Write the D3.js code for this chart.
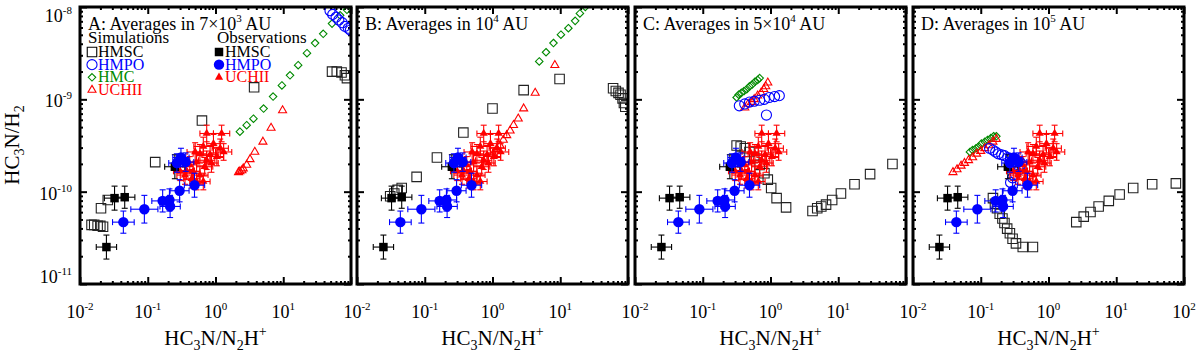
<!DOCTYPE html>
<head>
  <meta charset="utf-8">
  <script src="https://cdn.jsdelivr.net/npm/d3@7"></script>
  <style>
    body { margin:0; background:#fff; }
    text { font-family: "Liberation Serif", "Times New Roman", serif; fill:#000; }
  </style>
</head>
<body>
<script>
// all values are log10 of the plotted quantity (x = HC3N/N2H+, y = HC3N/H2)

// observations, same in every panel
var obsHmscX    = [-1.61, -1.49, -1.34, -0.60];
var obsHmscY    = [-10.60, -10.07, -10.06, -9.73];
var obsHmscXErr = [0.15, 0.15, 0.15, 0.15];
var obsHmscYErr = [0.13, 0.13, 0.12, 0.13];

var obsHmpoX    = [-1.36, -1.05, -0.78, -0.68, -0.67, -0.53, -0.31, -0.51, -0.44, -0.57];
var obsHmpoY    = [-10.33, -10.19, -10.10, -10.09, -10.16, -9.99, -9.93, -9.63, -9.68, -9.69];
var obsHmpoXErr = [0.16, 0.20, 0.16, 0.15, 0.15, 0.14, 0.15, 0.12, 0.12, 0.12];
var obsHmpoYErr = [0.12, 0.15, 0.12, 0.12, 0.12, 0.12, 0.13, 0.10, 0.10, 0.10];

var obsUchiiX = [-0.30, -0.13, 0.09, -0.18, -0.03, 0.07, 0.12, -0.23, -0.08, 0.02, -0.13, -0.28,
                 -0.38, -0.43, -0.33, -0.23, -0.52, -0.16, -0.06, -0.35, -0.28, -0.45, -0.18];
var obsUchiiY = [-9.57, -9.37, -9.37, -9.51, -9.48, -9.53, -9.57, -9.59, -9.60, -9.62, -9.66, -9.68,
                 -9.71, -9.77, -9.78, -9.82, -9.78, -9.73, -9.69, -9.86, -9.89, -9.82, -9.89];
var obsUchiiXErr = [0.12, 0.10, 0.12, 0.14, 0.10, 0.12, 0.12, 0.10, 0.12, 0.10, 0.12, 0.14,
                    0.10, 0.12, 0.10, 0.12, 0.10, 0.12, 0.10, 0.12, 0.10, 0.12, 0.10];
var obsUchiiYErr = [0.10, 0.09, 0.09, 0.10, 0.10, 0.10, 0.09, 0.10, 0.10, 0.10, 0.10, 0.10,
                    0.09, 0.10, 0.10, 0.10, 0.10, 0.10, 0.10, 0.10, 0.09, 0.10, 0.09];

// simulations, panel A (7x10^3 AU)
var simAHmscX  = [-1.83, -1.79, -1.74, -1.70, -1.66, -1.69, -1.59, -0.89, -0.20, 0.57, 1.72, 1.79, 1.86, 1.91, 1.94];
var simAHmscY  = [-10.36, -10.36, -10.37, -10.37, -10.38, -10.18, -10.09, -9.68, -9.23, -8.87, -8.70, -8.70, -8.71, -8.74, -8.77];
var simAHmpoX  = [1.69, 1.73, 1.78, 1.82, 1.87, 1.91, 1.96, 1.99];
var simAHmpoY  = [-8.04, -8.08, -8.11, -8.14, -8.17, -8.21, -8.23, -8.25];
var simAHmcX   = [0.36, 0.46, 0.56, 0.71, 0.85, 0.98, 1.10, 1.22, 1.35, 1.47, 1.59, 1.72, 1.84, 1.94];
var simAHmcY   = [-9.35, -9.28, -9.21, -9.10, -8.97, -8.85, -8.74, -8.63, -8.50, -8.39, -8.29, -8.18, -8.09, -8.03];
var simAUchiiX = [0.99, 0.82, 0.70, 0.58, 0.51, 0.46, 0.41, 0.39, 0.36, 0.34];
var simAUchiiY = [-9.12, -9.31, -9.46, -9.57, -9.65, -9.71, -9.75, -9.77, -9.78, -9.79];

// panel B (10^4 AU)
var simBHmscX  = [-1.51, -1.45, -1.40, -1.34, -1.12, -0.82, -0.43, 0.00, 0.46, 0.99, 1.78, 1.82, 1.86, 1.89, 1.92, 1.94, 1.96];
var simBHmscY  = [-10.05, -10.02, -9.98, -9.96, -9.84, -9.63, -9.36, -9.10, -8.90, -8.78, -8.88, -8.91, -8.93, -8.95, -8.99, -9.04, -9.08];
var simBHmpoX  = [];
var simBHmpoY  = [];
var simBHmcX   = [0.69, 0.79, 0.90, 1.01, 1.12, 1.22, 1.29, 1.37, 1.45];
var simBHmcY   = [-8.59, -8.49, -8.39, -8.30, -8.23, -8.15, -8.07, -8.00, -7.93];
var simBUchiiX = [0.92, 0.63, 0.46, 0.38, 0.31, 0.26, 0.21, 0.16, 0.11, 0.06, 0.01];
var simBUchiiY = [-8.63, -8.93, -9.10, -9.21, -9.28, -9.34, -9.39, -9.44, -9.50, -9.54, -9.59];

// panel C (5x10^4 AU)
var simCHmscX  = [-0.50, -0.44, -0.38, -0.31, -0.24, -0.16, -0.09, -0.04, 0.01, 0.09, 0.23, 0.62, 0.69, 0.75, 0.82, 0.91, 1.04, 1.24, 1.47, 1.80];
var simCHmscY  = [-9.50, -9.51, -9.53, -9.57, -9.63, -9.71, -9.80, -9.87, -9.96, -10.07, -10.17, -10.21, -10.18, -10.16, -10.14, -10.09, -10.02, -9.92, -9.81, -9.70];
var simCHmpoX  = [-0.46, -0.38, -0.31, -0.24, -0.16, -0.09, -0.02, 0.06, 0.13, -0.06];
var simCHmpoY  = [-9.07, -9.05, -9.03, -9.02, -9.01, -9.00, -8.98, -8.97, -8.96, -9.17];
var simCHmcX   = [-0.50, -0.47, -0.43, -0.39, -0.35, -0.31, -0.27, -0.23, -0.19, -0.16];
var simCHmcY   = [-8.98, -8.95, -8.93, -8.91, -8.89, -8.86, -8.84, -8.81, -8.79, -8.77];
var simCUchiiX = [-0.38, -0.33, -0.28, -0.24, -0.19, -0.14, -0.10, -0.07, -0.04];
var simCUchiiY = [-9.09, -9.05, -9.03, -9.00, -8.96, -8.93, -8.89, -8.86, -8.82];

// panel D (10^5 AU)
var simDHmscX  = [-0.82, -0.79, -0.76, -0.72, -0.68, -0.65, -0.61, -0.57, -0.53, -0.48, -0.38, -0.23,
                  0.41, 0.52, 0.62, 0.74, 0.89, 1.05, 1.25, 1.53, 1.88];
var simDHmscY  = [-10.07, -10.13, -10.18, -10.24, -10.29, -10.34, -10.40, -10.45, -10.51, -10.56, -10.60, -10.60,
                  -10.33, -10.27, -10.22, -10.16, -10.10, -10.03, -9.96, -9.92, -9.91];
var simDHmpoX  = [-0.87, -0.82, -0.78, -0.74, -0.69, -0.65, -0.60, -0.56, -0.52, -0.47, -0.43, -0.40, -0.43, -0.49, -0.53, -0.56];
var simDHmpoY  = [-9.53, -9.55, -9.57, -9.59, -9.60, -9.61, -9.63, -9.64, -9.65, -9.66, -9.67, -9.70, -9.76, -9.81, -9.85, -9.90];
var simDHmcX   = [-1.16, -1.12, -1.07, -1.03, -0.99, -0.94, -0.90, -0.85, -0.81, -0.77];
var simDHmcY   = [-9.57, -9.55, -9.53, -9.51, -9.48, -9.46, -9.44, -9.42, -9.40, -9.40];
var simDUchiiX = [-1.41, -1.35, -1.29, -1.24, -1.18, -1.12, -1.06, -1.00, -0.94, -0.88, -0.82, -0.77];
var simDUchiiY = [-9.79, -9.76, -9.72, -9.69, -9.66, -9.63, -9.59, -9.56, -9.53, -9.50, -9.46, -9.43];

// panel titles and tick labels
var panelLetters = ["A", "B", "C", "D"];
var panelPrefix  = ["7\u00d710", "10", "5\u00d710", "10"];
var panelExp     = ["3", "4", "4", "5"];
var xTickExp = [-2, -1, 0, 1, 2];
var yTickExp = [-8, -9, -10, -11];

var width = 1200, height = 355;
var plotTop = 7, plotBottom = 284, plotW = 271;
var panelLeft = [80, 357, 635, 913];

var svg = d3.select("body").append("svg")
  .attr("width", width)
  .attr("height", height);

var y = d3.scaleLog().domain([1e-11, 1e-8]).range([plotBottom, plotTop]);

function p10(v) { return Math.pow(10, v); }
function pts(xs, ys) { return xs.map(function(v, i) { return {x: p10(v), y: p10(ys[i])}; }); }

var sims = [
  {hmsc: pts(simAHmscX, simAHmscY), hmpo: pts(simAHmpoX, simAHmpoY), hmc: pts(simAHmcX, simAHmcY), uchii: pts(simAUchiiX, simAUchiiY)},
  {hmsc: pts(simBHmscX, simBHmscY), hmpo: pts(simBHmpoX, simBHmpoY), hmc: pts(simBHmcX, simBHmcY), uchii: pts(simBUchiiX, simBUchiiY)},
  {hmsc: pts(simCHmscX, simCHmscY), hmpo: pts(simCHmpoX, simCHmpoY), hmc: pts(simCHmcX, simCHmcY), uchii: pts(simCUchiiX, simCUchiiY)},
  {hmsc: pts(simDHmscX, simDHmscY), hmpo: pts(simDHmpoX, simDHmpoY), hmc: pts(simDHmcX, simDHmcY), uchii: pts(simDUchiiX, simDUchiiY)}
];

function obsPts(xs, ys, xe, ye) {
  return xs.map(function(v, i) { return {lx: v, ly: ys[i], xe: xe[i], ye: ye[i]}; });
}
var obsHmsc  = obsPts(obsHmscX, obsHmscY, obsHmscXErr, obsHmscYErr);
var obsHmpo  = obsPts(obsHmpoX, obsHmpoY, obsHmpoXErr, obsHmpoYErr);
var obsUchii = obsPts(obsUchiiX, obsUchiiY, obsUchiiXErr, obsUchiiYErr);

var BLUE = "#0000ff", GREEN = "#008a00", RED = "#ff0000";

var shapes = {
  square:   d3.symbol().type(d3.symbolSquare).size(90)(),
  circle:   d3.symbol().type(d3.symbolCircle).size(80)(),
  diamond:  d3.symbol().type(d3.symbolDiamond2).size(36)(),
  triangle: d3.symbol().type(d3.symbolTriangle2).size(46)(),
  fsquare:  d3.symbol().type(d3.symbolSquare).size(72)(),
  fcircle:  d3.symbol().type(d3.symbolCircle).size(85)(),
  ftriangle:d3.symbol().type(d3.symbolTriangle2).size(48)()
};

// minor + major ticks
var majorX = xTickExp.map(p10), minorX = [];
[-2, -1, 0, 1].forEach(function(e) { for (var k = 2; k < 10; k++) minorX.push(k * p10(e)); });
var majorY = yTickExp.map(p10), minorY = [];
[-11, -10, -9].forEach(function(e) { for (var k = 2; k < 10; k++) minorY.push(k * p10(e)); });

function powLabel(g, px, py, base, exp, anchor, size) {
  var t = g.append("text").attr("x", px).attr("y", py)
    .attr("text-anchor", anchor).style("font-size", size + "px");
  t.append("tspan").text(base);
  t.append("tspan").attr("dy", -Math.round(size * 0.45)).style("font-size", Math.round(size * 0.62) + "px").text(exp);
  return t;
}

panelLeft.forEach(function(left, pi) {
  var x = d3.scaleLog().domain([1e-2, 1e2]).range([left, left + plotW]);
  var g = svg.append("g");

  svg.append("clipPath").attr("id", "clip" + pi)
    .append("rect").attr("x", left).attr("y", plotTop).attr("width", plotW).attr("height", plotBottom - plotTop);

  // axes (ticks pointing inward on all sides)
  function tickAxis(axisFn, scale, vals, len, tr) {
    g.append("g").attr("transform", tr)
      .call(axisFn(scale).tickValues(vals).tickSize(-len).tickFormat(""))
      .call(function(a) {
        a.select(".domain").remove();
        a.selectAll("line").attr("stroke", "#000").attr("stroke-width", 2);
      });
  }
  tickAxis(d3.axisBottom, x, majorX, 7, "translate(0," + plotBottom + ")");
  tickAxis(d3.axisBottom, x, minorX, 3, "translate(0," + plotBottom + ")");
  tickAxis(d3.axisTop, x, majorX, 7, "translate(0," + plotTop + ")");
  tickAxis(d3.axisTop, x, minorX, 3, "translate(0," + plotTop + ")");
  tickAxis(d3.axisLeft, y, majorY, 7, "translate(" + left + ",0)");
  tickAxis(d3.axisLeft, y, minorY, 3, "translate(" + left + ",0)");
  tickAxis(d3.axisRight, y, majorY, 7, "translate(" + (left + plotW) + ",0)");
  tickAxis(d3.axisRight, y, minorY, 3, "translate(" + (left + plotW) + ",0)");

  // simulations
  var sg = g.append("g").attr("clip-path", "url(#clip" + pi + ")");
  var s = sims[pi];
  function drawSim(data, shape, color) {
    sg.selectAll(null).data(data).enter().append("path")
      .attr("d", shapes[shape])
      .attr("transform", function(d) { return "translate(" + x(d.x) + "," + y(d.y) + ")"; })
      .attr("fill", "none").attr("stroke", color).attr("stroke-width", 1.1);
  }
  drawSim(s.hmsc, "square", "#222");
  drawSim(s.hmc, "diamond", GREEN);
  drawSim(s.uchii, "triangle", RED);
  drawSim(s.hmpo, "circle", BLUE);

  // observations with error bars
  function drawObs(data, shape, color) {
    var og = sg.append("g");
    data.forEach(function(d) {
      var cx = x(p10(d.lx)), cy = y(p10(d.ly));
      var x0 = x(p10(d.lx - d.xe)), x1 = x(p10(d.lx + d.xe));
      var y0 = y(p10(d.ly - d.ye)), y1 = y(p10(d.ly + d.ye));
      var eb = og.append("g").attr("stroke", color).attr("stroke-width", 1.1);
      eb.append("line").attr("x1", x0).attr("x2", x1).attr("y1", cy).attr("y2", cy);
      eb.append("line").attr("x1", cx).attr("x2", cx).attr("y1", y0).attr("y2", y1);
      eb.append("line").attr("x1", x0).attr("x2", x0).attr("y1", cy - 3).attr("y2", cy + 3);
      eb.append("line").attr("x1", x1).attr("x2", x1).attr("y1", cy - 3).attr("y2", cy + 3);
      eb.append("line").attr("x1", cx - 3).attr("x2", cx + 3).attr("y1", y0).attr("y2", y0);
      eb.append("line").attr("x1", cx - 3).attr("x2", cx + 3).attr("y1", y1).attr("y2", y1);
    });
    og.selectAll(null).data(data).enter().append("path")
      .attr("d", shapes[shape])
      .attr("transform", function(d) { return "translate(" + x(p10(d.lx)) + "," + y(p10(d.ly)) + ")"; })
      .attr("fill", color);
  }
  drawObs(obsUchii, "ftriangle", RED);
  drawObs(obsHmsc, "fsquare", "#000");
  drawObs(obsHmpo, "fcircle", BLUE);

  // frame
  g.append("rect").attr("x", left).attr("y", plotTop).attr("width", plotW).attr("height", plotBottom - plotTop)
    .attr("fill", "none").attr("stroke", "#000").attr("stroke-width", 3);

  // panel title
  var t = g.append("text").attr("x", left + 8).attr("y", 30).style("font-size", "18px");
  t.append("tspan").text(panelLetters[pi] + ": Averages in " + panelPrefix[pi]);
  t.append("tspan").attr("dy", -8).style("font-size", "11px").text(panelExp[pi]);
  t.append("tspan").attr("dy", 8).text(" AU");

  // x tick labels
  var xl = pi === 3 ? xTickExp : xTickExp.slice(0, 4);
  xl.forEach(function(e) { powLabel(g, x(p10(e)), 318, "10", String(e), "middle", 18); });

  // x title
  var xt = g.append("text").attr("x", left + plotW / 2).attr("y", 345)
    .attr("text-anchor", "middle").style("font-size", "21px");
  xt.append("tspan").text("HC");
  xt.append("tspan").attr("dy", 5).style("font-size", "14px").text("3");
  xt.append("tspan").attr("dy", -5).text("N/N");
  xt.append("tspan").attr("dy", 5).style("font-size", "14px").text("2");
  xt.append("tspan").attr("dy", -5).text("H");
  xt.append("tspan").attr("dy", -9).style("font-size", "14px").text("+");
});

// y tick labels (left panel only)
yTickExp.forEach(function(e) {
  var py = Math.min(Math.max(y(p10(e)) + 8, 22), 283);
  powLabel(svg, 72, py, "10", String(e), "end", 18);
});

// y title
var yt = svg.append("text").attr("transform", "translate(19,145) rotate(-90)")
  .attr("text-anchor", "middle").style("font-size", "21px");
yt.append("tspan").text("HC");
yt.append("tspan").attr("dy", 5).style("font-size", "14px").text("3");
yt.append("tspan").attr("dy", -5).text("N/H");
yt.append("tspan").attr("dy", 5).style("font-size", "14px").text("2");

// legend in panel A
var legend = svg.append("g");
legend.append("text").attr("x", 88).attr("y", 43).style("font-size", "17px").text("Simulations");
legend.append("text").attr("x", 217).attr("y", 43).style("font-size", "17px").text("Observations");
var simLeg = [
  {label: "HMSC", shape: "square", color: "#000"},
  {label: "HMPO", shape: "circle", color: BLUE},
  {label: "HMC", shape: "diamond", color: GREEN},
  {label: "UCHII", shape: "triangle", color: RED}
];
var obsLeg = [
  {label: "HMSC", shape: "fsquare", color: "#000"},
  {label: "HMPO", shape: "fcircle", color: BLUE},
  {label: "UCHII", shape: "ftriangle", color: RED}
];
var legRowY = d3.scaleLinear().domain([0, 3]).range([57, 95]);
simLeg.forEach(function(d, i) {
  legend.append("path").attr("d", shapes[d.shape])
    .attr("transform", "translate(92," + (legRowY(i) - 5) + ")")
    .attr("fill", "none").attr("stroke", d.color).attr("stroke-width", 1.1);
  legend.append("text").attr("x", 98).attr("y", legRowY(i)).style("font-size", "16px")
    .style("fill", d.color).text(d.label);
});
obsLeg.forEach(function(d, i) {
  legend.append("path").attr("d", shapes[d.shape])
    .attr("transform", "translate(219," + (legRowY(i) - 5) + ")")
    .attr("fill", d.color);
  legend.append("text").attr("x", 225).attr("y", legRowY(i)).style("font-size", "16px")
    .style("fill", d.color).text(d.label);
});
</script>
</body>
